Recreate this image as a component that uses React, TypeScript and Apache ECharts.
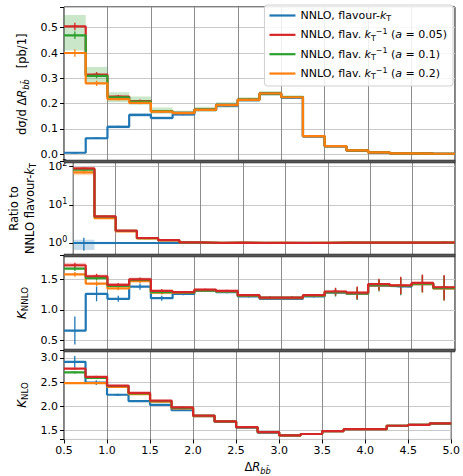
import { useEffect, useRef } from 'react';
import * as echarts from 'echarts';

const FONT = 'DejaVu Sans';

// bin edges of ΔR_bb̄
const binEdges = [0.5, 0.75, 1.0, 1.25, 1.5, 1.75, 2.0, 2.25, 2.5, 2.75, 3.0, 3.25, 3.5, 3.75, 4.0, 4.25, 4.5, 4.75, 5.0];

const seriesNames = [
  'NNLO, flavour-kT',
  'NNLO, flav. kT-1 (a = 0.05)',
  'NNLO, flav. kT-1 (a = 0.1)',
  'NNLO, flav. kT-1 (a = 0.2)',
];
const legendTexts = [
  '{t|NNLO, flavour-}{i|k}{s|T}',
  '{t|NNLO, flav. }{i|k}{s|T}{u|−1}{t| (}{i|a}{t| = 0.05)}',
  '{t|NNLO, flav. }{i|k}{s|T}{u|−1}{t| (}{i|a}{t| = 0.1)}',
  '{t|NNLO, flav. }{i|k}{s|T}{u|−1}{t| (}{i|a}{t| = 0.2)}',
];
const colors = ['#1f77b4', '#d62728', '#2ca02c', '#ff7f0e'];

// Panel 1: dσ/dΔR [pb/1]
const xsecBlue = [0.0056, 0.063, 0.108, 0.155, 0.143, 0.157, 0.175, 0.192, 0.214, 0.238, 0.224, 0.070, 0.031, 0.014, 0.0065, 0.003, 0.002, 0.0015];
const xsecRed = [0.505, 0.315, 0.228, 0.210, 0.170, 0.163, 0.176, 0.195, 0.216, 0.241, 0.226, 0.071, 0.032, 0.015, 0.007, 0.003, 0.002, 0.0016];
const xsecGreen = [0.470, 0.310, 0.225, 0.208, 0.170, 0.163, 0.176, 0.195, 0.216, 0.240, 0.226, 0.071, 0.032, 0.015, 0.007, 0.003, 0.002, 0.0016];
const xsecOrange = [0.400, 0.280, 0.218, 0.203, 0.168, 0.162, 0.175, 0.194, 0.215, 0.240, 0.225, 0.071, 0.032, 0.015, 0.007, 0.003, 0.002, 0.0016];
const xsecGreenBandLo = [0.410, 0.280, 0.205, 0.195, 0.160, 0.155, 0.168, 0.185, 0.207, 0.231, 0.218, 0.068, 0.030, 0.014, 0.006, 0.0025, 0.0015, 0.0012];
const xsecGreenBandHi = [0.550, 0.345, 0.245, 0.228, 0.185, 0.172, 0.188, 0.205, 0.225, 0.250, 0.233, 0.074, 0.034, 0.016, 0.008, 0.0035, 0.0025, 0.002];
const xsecBlueBandLo = [0.004, 0.058, 0.102, 0.148, 0.136, 0.151, 0.169, 0.186, 0.208, 0.232, 0.219, 0.067, 0.029, 0.013, 0.006, 0.0025, 0.0015, 0.001];
const xsecBlueBandHi = [0.007, 0.068, 0.114, 0.162, 0.150, 0.163, 0.181, 0.198, 0.220, 0.244, 0.229, 0.073, 0.033, 0.015, 0.007, 0.0035, 0.0025, 0.002];
const xsecErrBlue = [0.002, 0.003, 0.004, 0.004, 0.004, 0.003, 0.003, 0.003, 0.003, 0.003, 0.003, 0.002, 0.001, 0.001, 0.001, 0.0005, 0.0005, 0.0005];
const xsecErrOther = [0.015, 0.010, 0.006, 0.006, 0.004, 0.003, 0.003, 0.003, 0.003, 0.003, 0.003, 0.002, 0.001, 0.001, 0.001, 0.0005, 0.0005, 0.0005];

// Panel 2: ratio to NNLO flavour-kT (log)
const ratioBlue = [1, 1, 1, 1, 1, 1, 1, 1, 1, 1, 1, 1, 1, 1, 1, 1, 1, 1];
const ratioRed = [90, 5.0, 2.1, 1.35, 1.19, 1.04, 1.01, 1.02, 1.01, 1.01, 1.01, 1.01, 1.02, 1.02, 1.02, 1.02, 1.02, 1.03];
const ratioGreen = [84, 4.9, 2.08, 1.34, 1.19, 1.04, 1.01, 1.02, 1.01, 1.01, 1.01, 1.01, 1.02, 1.02, 1.02, 1.02, 1.02, 1.03];
const ratioOrange = [71, 4.45, 2.02, 1.31, 1.17, 1.03, 1.0, 1.01, 1.0, 1.01, 1.0, 1.01, 1.02, 1.02, 1.02, 1.02, 1.02, 1.03];
const ratioBlueBandLo = [0.66, 0.93, 0.95, 0.96, 0.96, 0.97, 0.97, 0.97, 0.97, 0.97, 0.97, 0.97, 0.96, 0.96, 0.95, 0.95, 0.95, 0.95];
const ratioBlueBandHi = [1.22, 1.07, 1.05, 1.04, 1.04, 1.03, 1.03, 1.03, 1.03, 1.03, 1.03, 1.03, 1.04, 1.04, 1.05, 1.05, 1.05, 1.05];
const ratioOrangeBandLo = [60, 4.2, 1.95, 1.27, 1.14, 1.0, 0.98, 0.99, 0.98, 0.99, 0.98, 0.98, 0.99, 0.99, 0.99, 0.99, 0.99, 1.0];
const ratioOrangeBandHi = [82, 4.8, 2.12, 1.36, 1.2, 1.06, 1.03, 1.04, 1.03, 1.03, 1.03, 1.04, 1.05, 1.05, 1.05, 1.05, 1.05, 1.06];
const ratioErrBlue = [0.37, 0.05, 0.03, 0.02, 0.02, 0.02, 0.01, 0.01, 0.01, 0.01, 0.01, 0.01, 0.01, 0.01, 0.01, 0.01, 0.01, 0.02];
const ratioErrOther = [5, 0.15, 0.05, 0.03, 0.02, 0.02, 0.01, 0.01, 0.01, 0.01, 0.01, 0.01, 0.01, 0.01, 0.01, 0.01, 0.01, 0.02];

// Panel 3: K_NNLO
const kNNLOBlue = [0.66, 1.26, 1.18, 1.38, 1.19, 1.26, 1.31, 1.29, 1.22, 1.18, 1.18, 1.22, 1.28, 1.26, 1.39, 1.38, 1.42, 1.35];
const kNNLORed = [1.73, 1.55, 1.41, 1.50, 1.31, 1.29, 1.33, 1.31, 1.24, 1.20, 1.20, 1.24, 1.30, 1.28, 1.42, 1.40, 1.44, 1.37];
const kNNLOGreen = [1.675, 1.52, 1.39, 1.49, 1.29, 1.28, 1.32, 1.30, 1.23, 1.20, 1.20, 1.23, 1.29, 1.27, 1.41, 1.39, 1.43, 1.36];
const kNNLOOrange = [1.58, 1.43, 1.35, 1.47, 1.28, 1.28, 1.32, 1.30, 1.23, 1.19, 1.19, 1.23, 1.29, 1.27, 1.40, 1.39, 1.42, 1.35];
const kNNLORedBandLo = [1.69, 1.51, 1.38, 1.47, 1.29, 1.27, 1.31, 1.29, 1.22, 1.18, 1.18, 1.22, 1.28, 1.26, 1.40, 1.38, 1.42, 1.35];
const kNNLORedBandHi = [1.77, 1.58, 1.44, 1.53, 1.33, 1.31, 1.35, 1.33, 1.26, 1.22, 1.22, 1.26, 1.32, 1.30, 1.44, 1.42, 1.46, 1.39];
const kNNLOErrBlue = [0.23, 0.12, 0.05, 0.05, 0.04, 0.02, 0.02, 0.02, 0.02, 0.02, 0.02, 0.02, 0.06, 0.10, 0.09, 0.14, 0.14, 0.20];
const kNNLOErrOther = [0.04, 0.04, 0.03, 0.03, 0.03, 0.02, 0.02, 0.02, 0.02, 0.02, 0.02, 0.02, 0.06, 0.10, 0.09, 0.14, 0.14, 0.20];

// Panel 4: K_NLO
const kNLOBlue = [2.92, 2.49, 2.24, 2.11, 2.03, 1.92, 1.80, 1.68, 1.56, 1.46, 1.40, 1.43, 1.49, 1.53, 1.53, 1.60, 1.62, 1.64];
const kNLORed = [2.78, 2.61, 2.43, 2.28, 2.12, 1.98, 1.81, 1.69, 1.57, 1.47, 1.40, 1.43, 1.49, 1.53, 1.53, 1.60, 1.62, 1.65];
const kNLOGreen = [2.70, 2.59, 2.42, 2.27, 2.11, 1.97, 1.81, 1.69, 1.57, 1.47, 1.40, 1.43, 1.49, 1.53, 1.53, 1.60, 1.62, 1.65];
const kNLOOrange = [2.48, 2.48, 2.40, 2.25, 2.10, 1.96, 1.80, 1.69, 1.57, 1.47, 1.40, 1.43, 1.49, 1.53, 1.53, 1.60, 1.62, 1.65];
const kNLOErrBlue = [0.12, 0.05, 0.02, 0.02, 0.01, 0.01, 0.01, 0.01, 0.01, 0.01, 0.01, 0.01, 0.01, 0.01, 0.01, 0.01, 0.01, 0.02];
const kNLOErrOther = [0.02, 0.02, 0.01, 0.01, 0.01, 0.01, 0.01, 0.01, 0.01, 0.01, 0.01, 0.01, 0.01, 0.01, 0.01, 0.01, 0.01, 0.02];

const rich = (size: number) => ({
  t: { fontFamily: FONT, fontSize: size, color: '#000', lineHeight: size * 1.35 },
  i: { fontFamily: FONT, fontSize: size, fontStyle: 'italic', color: '#000', lineHeight: size * 1.35 },
  s: { fontFamily: FONT, fontSize: size * 0.72, color: '#000', verticalAlign: 'bottom', lineHeight: size * 0.75 },
  si: { fontFamily: FONT, fontSize: size * 0.72, fontStyle: 'italic', color: '#000', verticalAlign: 'bottom', lineHeight: size * 0.75 },
  u: { fontFamily: FONT, fontSize: size * 0.72, color: '#000', verticalAlign: 'top', lineHeight: size * 0.75 },
});

function stepData(vals: number[]) {
  const d = vals.map((v, i) => [binEdges[i], v]);
  d.push([binEdges[vals.length], vals[vals.length - 1]]);
  return d;
}

function lineSeries(g: number, idx: number, vals: number[]) {
  return {
    type: 'line',
    name: seriesNames[idx],
    xAxisIndex: g,
    yAxisIndex: g,
    data: stepData(vals),
    step: 'end',
    symbol: 'none',
    showSymbol: false,
    color: colors[idx],
    lineStyle: { color: colors[idx], width: 2.2 },
    z: 3,
    silent: true,
  };
}

function bandSeries(g: number, idx: number, lo: number[], hi: number[]) {
  return {
    type: 'custom',
    name: 'band' + g + '_' + idx,
    xAxisIndex: g,
    yAxisIndex: g,
    z: 2,
    silent: true,
    clip: true,
    data: lo.map((l, i) => [binEdges[i], binEdges[i + 1], l, hi[i]]),
    encode: { x: [0, 1], y: [2, 3] },
    renderItem: (_p: any, api: any) => {
      const a = api.coord([api.value(0), api.value(3)]);
      const b = api.coord([api.value(1), api.value(2)]);
      return {
        type: 'rect',
        shape: { x: a[0], y: a[1], width: b[0] - a[0], height: b[1] - a[1] },
        style: { fill: colors[idx], opacity: 0.25 },
      };
    },
  };
}

function errSeries(g: number, idx: number, vals: number[], err: number[]) {
  return {
    type: 'custom',
    name: 'err' + g + '_' + idx,
    xAxisIndex: g,
    yAxisIndex: g,
    z: 3,
    silent: true,
    clip: true,
    data: vals.map((v, i) => [(binEdges[i] + binEdges[i + 1]) / 2, v, v - err[i], v + err[i]]),
    encode: { x: [0], y: [1, 2, 3] },
    renderItem: (_p: any, api: any) => {
      const x = api.value(0);
      const c = api.coord([x, api.value(1)]);
      const lo = api.coord([x, api.value(2)]);
      const hi = api.coord([x, api.value(3)]);
      return {
        type: 'group',
        children: [
          { type: 'line', shape: { x1: c[0], y1: lo[1], x2: c[0], y2: hi[1] }, style: { stroke: colors[idx], lineWidth: 1.3 } },
          { type: 'line', shape: { x1: c[0] - 3.5, y1: c[1], x2: c[0] + 3.5, y2: c[1] }, style: { stroke: colors[idx], lineWidth: 1.3 } },
        ],
      };
    },
  };
}

const isMult = (v: number, step: number) => Math.abs(v / step - Math.round(v / step)) < 1e-6;

export default function App() {
  const ref = useRef<HTMLDivElement>(null);
  useEffect(() => {
    if (!ref.current) return;
    const chart = echarts.init(ref.current, undefined, { renderer: 'svg' });

    const grids = [
      { top: 7, height: 154.5 },
      { top: 161.5, height: 94 },
      { top: 255.5, height: 95 },
      { top: 350.5, height: 93.5 },
    ].map((g) => ({ left: 64, right: 8, ...g, show: true, borderColor: '#000', borderWidth: 1, backgroundColor: 'transparent' }));

    const tickLabel = { fontFamily: FONT, fontSize: 11, color: '#000' };

    const xAxes = [0, 1, 2, 3].map((i) => ({
      type: 'value',
      gridIndex: i,
      min: 0.5,
      max: 5,
      interval: 0.5,
      axisLine: { show: false },
      axisTick: { show: i === 3, length: 4, lineStyle: { color: '#000' } },
      axisLabel: { show: i === 3, ...tickLabel, margin: 6, formatter: (v: number) => v.toFixed(1) },
      splitLine: { show: true, lineStyle: { color: '#8c8c8c', width: 1 } },
      ...(i === 3
        ? {
            name: '{t|Δ}{i|R}{si|bb̄}',
            nameLocation: 'middle',
            nameGap: 20,
            nameTextStyle: { rich: rich(11.5) },
          }
        : {}),
    }));

    const ySplit = { show: true, lineStyle: { color: '#c9c9c9', width: 1.2 } };
    const yTick = { show: true, length: 4, lineStyle: { color: '#000' } };

    const yAxes = [
      {
        type: 'value',
        gridIndex: 0,
        min: -0.029,
        max: 0.582,
        splitNumber: 6,
        minInterval: 0.1,
        maxInterval: 0.1,
        axisLine: { show: false },
        axisTick: yTick,
        splitLine: ySplit,
        axisLabel: { ...tickLabel, margin: 6, formatter: (v: number) => (isMult(v, 0.1) ? v.toFixed(1) : '') },
        name: '{t|dσ/d Δ}{i|R}{si|bb̄}{t|   [pb/1]}',
        nameLocation: 'middle',
        nameRotate: 90,
        nameGap: 25,
        nameTextStyle: { rich: rich(11.5) },
      },
      {
        type: 'log',
        logBase: 10,
        gridIndex: 1,
        min: 0.47,
        max: 136.8,
        splitNumber: 2,
        axisLine: { show: false },
        axisTick: yTick,
        splitLine: ySplit,
        axisLabel: {
          ...tickLabel,
          margin: 6,
          formatter: (v: number) => {
            const e = Math.log10(v);
            if (Math.abs(e - Math.round(e)) > 1e-6) return '';
            return '{b|10}{p|' + Math.round(e) + '}';
          },
          rich: {
            b: { fontFamily: FONT, fontSize: 11, color: '#000', lineHeight: 14 },
            p: { fontFamily: FONT, fontSize: 8, color: '#000', verticalAlign: 'top', lineHeight: 8 },
          },
        },
        name: '{t|Ratio to}\n{t|NNLO flavour-}{i|k}{s|T}',
        nameLocation: 'middle',
        nameRotate: 90,
        nameGap: 28,
        nameTextStyle: { rich: rich(11.5) },
      },
      {
        type: 'value',
        gridIndex: 2,
        min: 0.333,
        max: 1.89,
        splitNumber: 3,
        minInterval: 0.5,
        maxInterval: 0.5,
        axisLine: { show: false },
        axisTick: yTick,
        splitLine: ySplit,
        axisLabel: { ...tickLabel, margin: 6, formatter: (v: number) => (isMult(v, 0.5) ? v.toFixed(1) : '') },
        name: '{i|K}{s|NNLO}',
        nameLocation: 'middle',
        nameRotate: 90,
        nameGap: 27,
        nameTextStyle: { rich: rich(12) },
      },
      {
        type: 'value',
        gridIndex: 3,
        min: 1.317,
        max: 3.153,
        splitNumber: 3,
        minInterval: 0.5,
        maxInterval: 0.5,
        axisLine: { show: false },
        axisTick: yTick,
        splitLine: ySplit,
        axisLabel: { ...tickLabel, margin: 6, formatter: (v: number) => (isMult(v, 0.5) ? v.toFixed(1) : '') },
        name: '{i|K}{s|NLO}',
        nameLocation: 'middle',
        nameRotate: 90,
        nameGap: 27,
        nameTextStyle: { rich: rich(12) },
      },
    ];

    const series: any[] = [];
    // bands
    series.push(bandSeries(0, 0, xsecBlueBandLo, xsecBlueBandHi));
    series.push(bandSeries(0, 2, xsecGreenBandLo, xsecGreenBandHi));
    series.push(bandSeries(1, 0, ratioBlueBandLo, ratioBlueBandHi));
    series.push(bandSeries(1, 3, ratioOrangeBandLo, ratioOrangeBandHi));
    series.push(bandSeries(2, 1, kNNLORedBandLo, kNNLORedBandHi));

    const panelVals = [
      [xsecBlue, xsecRed, xsecGreen, xsecOrange],
      [ratioBlue, ratioRed, ratioGreen, ratioOrange],
      [kNNLOBlue, kNNLORed, kNNLOGreen, kNNLOOrange],
      [kNLOBlue, kNLORed, kNLOGreen, kNLOOrange],
    ];
    const panelErr = [
      [xsecErrBlue, xsecErrOther],
      [ratioErrBlue, ratioErrOther],
      [kNNLOErrBlue, kNNLOErrOther],
      [kNLOErrBlue, kNLOErrOther],
    ];
    const drawOrder = [
      [0, 1, 2, 3],
      [0, 3, 2, 1],
      [0, 3, 2, 1],
      [0, 3, 2, 1],
    ];
    for (let g = 0; g < 4; g++) {
      for (const idx of drawOrder[g]) {
        series.push(lineSeries(g, idx, panelVals[g][idx]));
        series.push(errSeries(g, idx, panelVals[g][idx], panelErr[g][idx === 0 ? 0 : 1]));
      }
    }

    const sepY = [161.5, 255.5, 350.5];

    chart.setOption({
      animation: false,
      backgroundColor: '#fff',
      grid: grids,
      xAxis: xAxes,
      yAxis: yAxes,
      series,
      legend: {
        data: seriesNames,
        orient: 'vertical',
        right: 10,
        top: 5,
        itemGap: 4.5,
        icon: 'rect',
        itemWidth: 26,
        itemHeight: 2.2,
        padding: [5, 6, 5, 5],
        backgroundColor: 'rgba(255,255,255,0.85)',
        borderColor: '#d0d0d0',
        borderWidth: 1,
        borderRadius: 3,
        selectedMode: false,
        formatter: (name: string) => legendTexts[seriesNames.indexOf(name)],
        textStyle: { fontFamily: FONT, fontSize: 11, color: '#000', rich: rich(11) },
        z: 20,
      },
      graphic: sepY.map((y) => ({
        type: 'rect',
        z: 50,
        silent: true,
        shape: { x: 64, y: y - 1.5, width: 391, height: 3 },
        style: { fill: '#555', stroke: '#222', lineWidth: 0.5 },
      })),
    });

    return () => chart.dispose();
  }, []);

  return <div ref={ref} style={{ position: 'absolute', left: 0, top: 0, width: 463, height: 476 }} />;
}
